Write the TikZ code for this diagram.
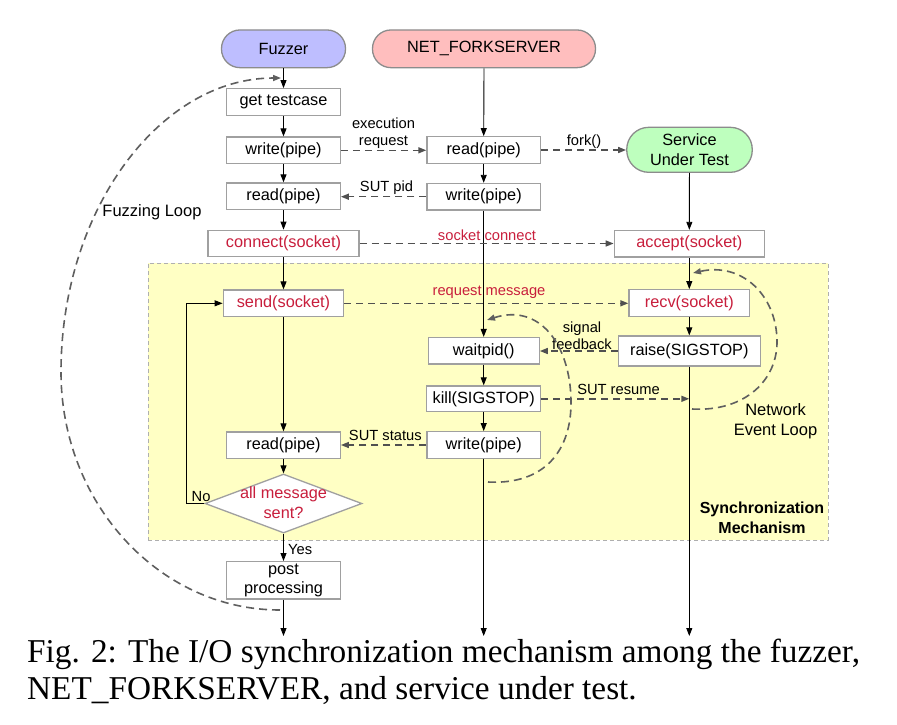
\documentclass[tikz,border=0pt]{standalone}
\usepackage{fontspec}
\setmainfont{Liberation Sans}
\newfontfamily\capfont{Liberation Serif}
\usetikzlibrary{arrows.meta,shapes.geometric}
\definecolor{boxline}{RGB}{160,160,160}
\definecolor{termline}{RGB}{140,140,140}
\definecolor{redtxt}{RGB}{200,30,60}
\definecolor{fuzzfill}{RGB}{190,190,255}
\definecolor{netfill}{RGB}{255,190,190}
\definecolor{sutfill}{RGB}{190,255,190}
\definecolor{syncfill}{RGB}{255,255,196}
\definecolor{syncline}{RGB}{175,175,175}
\definecolor{dashcol}{RGB}{80,80,80}
\definecolor{loopcol}{RGB}{95,95,95}
\begin{document}
\begin{tikzpicture}[x=1pt,y=-1pt,
  boxtxt/.style={font=\fontsize{16.3}{19.5}\selectfont},
  stepbox/.style={boxtxt, draw=boxline, fill=white, line width=1.3pt, inner sep=0pt, minimum height=26.5pt, minimum width=113.5pt, align=center},
  termbox/.style={boxtxt, draw=termline, line width=1.3pt, inner sep=0pt, minimum height=37.7pt, rounded corners=18.5pt, align=center},
  redtext/.style={text=redtxt},
  lbl/.style={font=\fontsize{14.7}{16.5}\selectfont, inner sep=0pt, align=center},
  looplbl/.style={font=\fontsize{16.5}{20}\selectfont, inner sep=0pt, align=center},
  flow/.style={-{Triangle[length=8pt,width=6pt]}, line width=0.9pt},
  msg/.style={-{Triangle[length=8pt,width=6pt]}, draw=dashcol, line width=1.5pt, dash pattern=on 7pt off 5pt},
  loopline/.style={-{Triangle[length=8pt,width=6pt]}, draw=loopcol, line width=1.6pt, dash pattern=on 8pt off 5pt},
]
\useasboundingbox (0,0) rectangle (897,724);
\node[draw=syncline, fill=syncfill, line width=1pt, dash pattern=on 4pt off 3pt, minimum width=680pt, minimum height=277pt, inner sep=0pt] (sync) at (488,401.5) {};

% terminals
\node[termbox, fill=fuzzfill, minimum width=124pt] (fuzzer) at (283.5,48.8) {Fuzzer};
\node[termbox, fill=netfill, minimum width=223pt] (net) at (484,48.8) {NET\_FORKSERVER};
\node[termbox, fill=sutfill, minimum width=125.5pt, minimum height=45pt, rounded corners=22pt] (sut) at (689.5,149.8) {Service\\Under Test};

% fuzzer column
\node[stepbox] (gettc) at (283.5,102) {get testcase};
\node[stepbox] (fwrite) at (283.5,150.3) {write(pipe)};
\node[stepbox] (fread) at (283.5,196.2) {read(pipe)};
\node[stepbox, redtext, minimum width=151pt] (connect) at (283.5,243.5) {connect(socket)};
\node[stepbox, redtext, minimum width=120.5pt] (send) at (283.5,303.3) {send(socket)};
\node[stepbox] (fread2) at (283.5,445.3) {read(pipe)};
\node[diamond, draw=boxline, fill=white, line width=1.3pt, inner sep=0pt, minimum width=157pt, minimum height=59pt] (dia) at (283.5,503.5) {};
\node[boxtxt, redtext, align=center, inner sep=0pt] (diatext) at (283.5,502.5) {all message\\sent?};
\node[stepbox, minimum height=37.3pt] (post) at (283.5,580.3) {post\\processing};

% forkserver column
\node[stepbox] (nread) at (483.7,150) {read(pipe)};
\node[stepbox] (nwrite) at (483.7,196.7) {write(pipe)};
\node[stepbox, minimum width=111pt] (waitpid) at (483.7,350.8) {waitpid()};
\node[stepbox, minimum width=114pt, minimum height=25.7pt] (kill) at (483.7,398.8) {kill(SIGSTOP)};
\node[stepbox] (nwrite2) at (483.7,445) {write(pipe)};

% SUT column
\node[stepbox, redtext, minimum width=150pt] (accept) at (689.3,243.7) {accept(socket)};
\node[stepbox, redtext, minimum width=120.7pt] (recv) at (689.3,303) {recv(socket)};
\node[stepbox, minimum width=141.7pt, minimum height=30pt] (raise) at (689.3,351) {raise(SIGSTOP)};

% free ends
\coordinate (fend) at (283.5,636);
\coordinate (nend) at (483.7,636);
\coordinate (tend) at (689.3,636);
\coordinate (fzstart) at (280,610);
\coordinate (fzleft) at (61,372);
\coordinate (fzarrow) at (281,78);
\coordinate (sgstart) at (488,482);
\coordinate (sgright) at (571,400);
\coordinate (sgend) at (487,320);
\coordinate (ntstart) at (692,409);
\coordinate (ntright) at (777,340);
\coordinate (ntend) at (693,273);

% solid flows
\draw[flow] (fuzzer.south) -- (gettc.north);
\draw[flow] (gettc) -- (fwrite);
\draw[flow] (fwrite) -- (fread);
\draw[flow] (fread) -- (connect);
\draw[flow] (connect) -- (send);
\draw[flow] (send) -- (fread2);
\draw[flow] (fread2.south) -- (dia.north);
\draw[flow] (dia.south) -- (post.north);
\draw[flow] (post.south) -- (fend);
\draw[flow] (dia.west) -- ++(-17.5,0) |- (send.west);
\draw[flow] (net.south) -- (nread.north);
\draw[flow] (nread) -- (nwrite);
\draw[flow] (nwrite) -- (waitpid);
\draw[flow] (waitpid) -- (kill);
\draw[flow] (kill) -- (nwrite2);
\draw[flow] (nwrite2.south) -- (nend);
\draw[flow] (sut) -- (accept);
\draw[flow] (accept) -- (recv);
\draw[flow] (recv) -- (raise);
\draw[flow] (raise.south) -- (tend);

% messages
\draw[msg] (fwrite.east) -- (fwrite.east -| nread.west);
\draw[msg] (nread.east) -- (nread.east -| sut.west);
\draw[msg] (nwrite.west) -- (nwrite.west -| fread.east);
\draw[msg] (connect.east) -- (connect.east -| accept.west);
\draw[msg] (send.east) -- (send.east -| recv.west);
\draw[msg] (raise.west) -- (raise.west -| waitpid.east);
\draw[msg] (kill.east) -- (kill.east -| raise.south);
\draw[msg] (nwrite2.west) -- (nwrite2.west -| fread2.east);

% labels (multi-line: base = last line)
\node[lbl, anchor=base] (lexec) at (383.5,145) {execution\\request};
\node[lbl, anchor=base] (lfork) at (584,145) {fork()};
\node[lbl, anchor=base] (lpid) at (386.5,191.7) {SUT pid};
\node[lbl, redtext, anchor=base] (lsock) at (487,240) {socket connect};
\node[lbl, redtext, anchor=base] (lreq) at (489,295) {request message};
\node[lbl, anchor=base] (lsig) at (582,349) {signal\\feedback};
\node[lbl, anchor=base] (lres) at (618.5,394) {SUT resume};
\node[lbl, anchor=base] (lstat) at (385.3,440) {SUT status};
\node[lbl, anchor=base west] (lno) at (191.5,501.7) {No};
\node[lbl, anchor=base west] (lyes) at (288,554) {Yes};
\node[looplbl, anchor=base] (lfuzz) at (152,216) {Fuzzing Loop};
\node[looplbl, anchor=base] (lnet) at (775.5,435) {Network\\Event Loop};
\node[looplbl, font=\bfseries\fontsize{16}{19.5}\selectfont, anchor=base] (lsync) at (762,533) {Synchronization\\Mechanism};

% loops
\draw[loopline] (fzstart) .. controls (159,610) and (61,503) .. (fzleft)
  .. controls (61,210) and (160,78) .. (fzarrow);
\draw[loopline] (sgstart) .. controls (545,485) and (572,450) .. (sgright)
  .. controls (570,345) and (540,303) .. (sgend);
\draw[loopline] (ntstart) .. controls (745,412) and (778,380) .. (ntright)
  .. controls (776,295) and (742,262) .. (ntend);

% caption
\node[anchor=base west, inner sep=0pt, font=\capfont\fontsize{33.3}{37}\selectfont] (cap1) at (27,662) {Fig. 2: The I/O synchronization mechanism among the fuzzer,};
\node[anchor=base west, inner sep=0pt, font=\capfont\fontsize{33.3}{37}\selectfont] (cap2) at (27,699) {NET\_FORKSERVER, and service under test.};
\end{tikzpicture}
\end{document}
